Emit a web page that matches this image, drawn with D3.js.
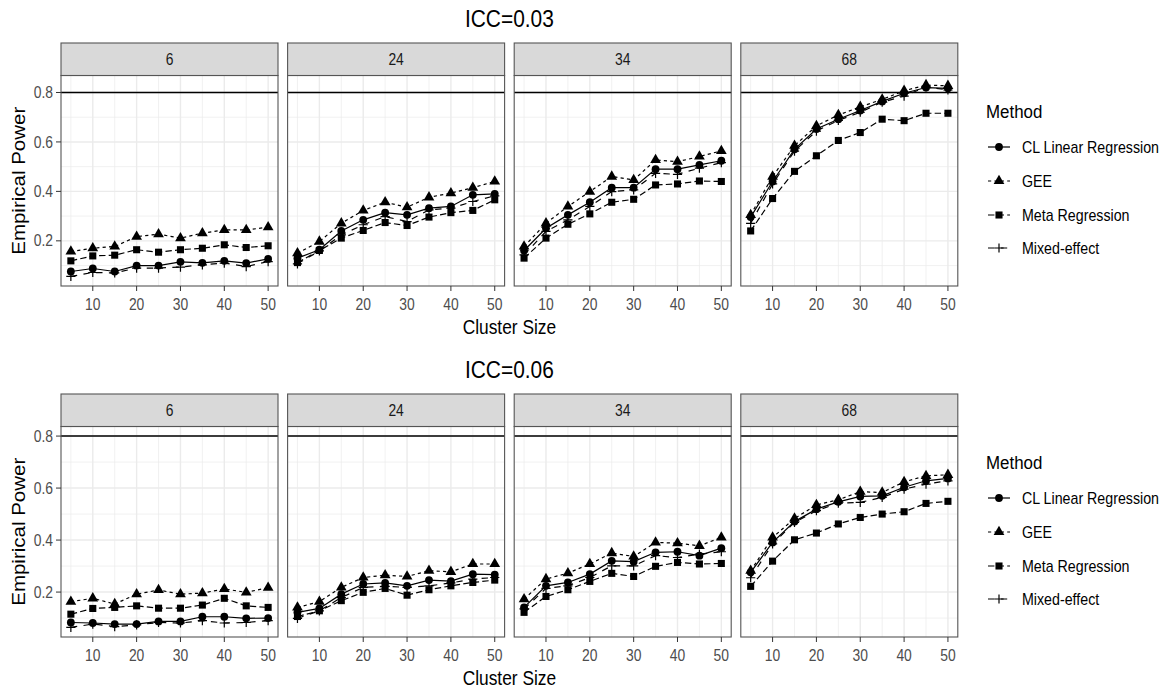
<!DOCTYPE html>
<html>
<head>
<meta charset="utf-8">
<script src="https://cdn.jsdelivr.net/npm/d3@7"></script>
<style>
  body { margin: 0; background: #fff; }
  svg { display: block; }
</style>
</head>
<body>
<svg id="chart"></svg>
<script>
/***********************************************************************/
// Data

var clusterSizes = [5, 10, 15, 20, 25, 30, 35, 40, 45, 50];
var numClusters = ['6', '24', '34', '68'];
var methods = ['CL Linear Regression', 'GEE', 'Meta Regression', 'Mixed-effect'];
var iccTitles = ['ICC=0.03', 'ICC=0.06'];
var targetPower = 0.8;
var xTicks = [10, 20, 30, 40, 50];
var xMinor = [5, 15, 25, 35, 45];
var yTicks = [0.2, 0.4, 0.6, 0.8];
var yMinor = [0.1, 0.3, 0.5, 0.7];

// rows: CL Linear Regression, GEE, Meta Regression, Mixed-effect
var icc03_k6 = [
  [0.076, 0.088, 0.076, 0.100, 0.100, 0.115, 0.111, 0.119, 0.110, 0.127],
  [0.157, 0.170, 0.177, 0.217, 0.227, 0.211, 0.231, 0.244, 0.244, 0.255],
  [0.119, 0.139, 0.142, 0.164, 0.154, 0.164, 0.170, 0.184, 0.173, 0.180],
  [0.056, 0.072, 0.070, 0.090, 0.090, 0.094, 0.103, 0.110, 0.096, 0.116]
];
var icc03_k24 = [
  [0.130, 0.164, 0.240, 0.285, 0.314, 0.305, 0.332, 0.339, 0.386, 0.390],
  [0.150, 0.197, 0.271, 0.323, 0.356, 0.336, 0.376, 0.393, 0.415, 0.440],
  [0.112, 0.161, 0.211, 0.242, 0.274, 0.262, 0.296, 0.314, 0.323, 0.366],
  [0.107, 0.159, 0.224, 0.265, 0.298, 0.278, 0.325, 0.332, 0.359, 0.382]
];
var icc03_k34 = [
  [0.161, 0.251, 0.305, 0.356, 0.415, 0.415, 0.490, 0.490, 0.507, 0.524],
  [0.177, 0.271, 0.339, 0.399, 0.460, 0.446, 0.527, 0.520, 0.541, 0.564],
  [0.130, 0.211, 0.267, 0.309, 0.356, 0.368, 0.426, 0.430, 0.442, 0.440],
  [0.143, 0.238, 0.285, 0.339, 0.399, 0.406, 0.473, 0.469, 0.494, 0.516]
];
var icc03_k68 = [
  [0.296, 0.440, 0.570, 0.652, 0.692, 0.727, 0.764, 0.797, 0.820, 0.817],
  [0.305, 0.460, 0.585, 0.665, 0.709, 0.742, 0.772, 0.807, 0.830, 0.827],
  [0.240, 0.371, 0.481, 0.544, 0.606, 0.638, 0.692, 0.686, 0.716, 0.716],
  [0.271, 0.430, 0.563, 0.644, 0.687, 0.720, 0.761, 0.785, 0.823, 0.810]
];
var icc06_k6 = [
  [0.083, 0.081, 0.077, 0.077, 0.087, 0.087, 0.105, 0.105, 0.099, 0.100],
  [0.163, 0.176, 0.154, 0.192, 0.208, 0.192, 0.196, 0.212, 0.199, 0.217],
  [0.115, 0.137, 0.141, 0.147, 0.138, 0.138, 0.150, 0.176, 0.147, 0.141],
  [0.064, 0.077, 0.067, 0.074, 0.083, 0.081, 0.090, 0.081, 0.083, 0.090]
];
var icc06_k24 = [
  [0.122, 0.137, 0.192, 0.231, 0.235, 0.224, 0.246, 0.242, 0.269, 0.267],
  [0.141, 0.163, 0.218, 0.256, 0.265, 0.260, 0.282, 0.278, 0.308, 0.308],
  [0.106, 0.128, 0.167, 0.199, 0.214, 0.188, 0.209, 0.224, 0.237, 0.246],
  [0.099, 0.128, 0.179, 0.218, 0.222, 0.218, 0.224, 0.235, 0.250, 0.256]
];
var icc06_k34 = [
  [0.141, 0.224, 0.237, 0.269, 0.320, 0.317, 0.353, 0.355, 0.340, 0.369],
  [0.173, 0.250, 0.273, 0.308, 0.350, 0.337, 0.391, 0.388, 0.378, 0.410],
  [0.122, 0.183, 0.209, 0.241, 0.272, 0.260, 0.299, 0.314, 0.308, 0.310],
  [0.135, 0.214, 0.224, 0.256, 0.301, 0.301, 0.340, 0.333, 0.346, 0.355]
];
var icc06_k68 = [
  [0.276, 0.391, 0.471, 0.519, 0.547, 0.568, 0.570, 0.603, 0.628, 0.637],
  [0.282, 0.410, 0.483, 0.535, 0.555, 0.586, 0.583, 0.624, 0.647, 0.651],
  [0.222, 0.319, 0.401, 0.427, 0.462, 0.487, 0.500, 0.509, 0.541, 0.549],
  [0.255, 0.385, 0.468, 0.513, 0.542, 0.545, 0.564, 0.596, 0.615, 0.628]
];

var powerData = [
  [icc03_k6, icc03_k24, icc03_k34, icc03_k68],
  [icc06_k6, icc06_k24, icc06_k34, icc06_k68]
];

/***********************************************************************/
// Layout

var W = 1173, H = 692;
var rowOffset = [0, 351];
var panelLeft = 61, panelW = 217, panelGap = 9.6;
var stripTop = 43, stripBottom = 75.5, panelBottom = 286;
var squeeze = 0.89;   // the source picture is a bit narrow horizontally
var font = '"Liberation Sans", Arial, Helvetica, sans-serif';

var dashes = [null, '3.2,3.2', '6.4,3.2', '6.4,6.4'];
var symbols = [d3.symbolCircle, d3.symbolTriangle, d3.symbolSquare, null];
var symbolSizes = [48, 50, 50, 0];

var svg = d3.select('#chart').attr('width', W).attr('height', H)
  .style('font-family', font);

function addText(parent, x, y, str, size, opts) {
  opts = opts || {};
  var t = 'translate(' + x + ',' + y + ') scale(' + squeeze + ',1)' + (opts.rotate ? ' rotate(-90)' : '');
  return parent.append('text')
    .attr('transform', t)
    .attr('text-anchor', opts.anchor || 'middle')
    .attr('fill', opts.color || '#000')
    .style('font-size', size + 'px')
    .text(str);
}

function drawMarker(g, m, x, y) {
  if (symbols[m]) {
    g.append('path')
      .attr('d', d3.symbol().type(symbols[m]).size(symbolSizes[m])())
      .attr('transform', 'translate(' + x + ',' + y + ')')
      .attr('fill', '#000');
  } else {
    g.append('path')
      .attr('d', 'M-4.6,0H4.6M0,-4.6V4.6')
      .attr('transform', 'translate(' + x + ',' + y + ')')
      .attr('stroke', '#000').attr('stroke-width', 1.2).attr('fill', 'none');
  }
}

var xScale = d3.scaleLinear().domain([2.75, 52.25]).range([0, panelW]);

/***********************************************************************/
// Draw each ICC block

iccTitles.forEach(function(title, r) {
  var off = rowOffset[r];
  var block = svg.append('g').attr('transform', 'translate(0,' + off + ')');

  // y domain like ggplot: data range incl. the 0.8 line, 5% expansion
  var all = [targetPower];
  powerData[r].forEach(function(panel) { panel.forEach(function(s) { all = all.concat(s); }); });
  var ext = d3.extent(all);
  var pad = (ext[1] - ext[0]) * 0.05;
  var yScale = d3.scaleLinear().domain([ext[0] - pad, ext[1] + pad]).range([panelBottom, stripBottom]);

  // title
  var plotCenter = panelLeft + (4 * panelW + 3 * panelGap) / 2;
  addText(block, plotCenter, 27, title, 23.5);

  numClusters.forEach(function(k, p) {
    var px = panelLeft + p * (panelW + panelGap);
    var g = block.append('g').attr('transform', 'translate(' + px + ',0)');

    // background grid
    g.append('rect').attr('x', 0).attr('y', stripBottom).attr('width', panelW)
      .attr('height', panelBottom - stripBottom).attr('fill', '#fff');
    g.selectAll('.xminor').data(xMinor).enter().append('line')
      .attr('x1', function(d) { return xScale(d); }).attr('x2', function(d) { return xScale(d); })
      .attr('y1', stripBottom).attr('y2', panelBottom)
      .attr('stroke', '#EBEBEB').attr('stroke-width', 0.7);
    g.selectAll('.yminor').data(yMinor.filter(function(d) { return d > yScale.domain()[0]; })).enter().append('line')
      .attr('y1', function(d) { return yScale(d); }).attr('y2', function(d) { return yScale(d); })
      .attr('x1', 0).attr('x2', panelW)
      .attr('stroke', '#EBEBEB').attr('stroke-width', 0.7);
    g.selectAll('.xmajor').data(xTicks).enter().append('line')
      .attr('x1', function(d) { return xScale(d); }).attr('x2', function(d) { return xScale(d); })
      .attr('y1', stripBottom).attr('y2', panelBottom)
      .attr('stroke', '#EBEBEB').attr('stroke-width', 1.4);
    g.selectAll('.ymajor').data(yTicks).enter().append('line')
      .attr('y1', function(d) { return yScale(d); }).attr('y2', function(d) { return yScale(d); })
      .attr('x1', 0).attr('x2', panelW)
      .attr('stroke', '#EBEBEB').attr('stroke-width', 1.4);

    // target power line
    g.append('line').attr('x1', 0).attr('x2', panelW)
      .attr('y1', yScale(targetPower)).attr('y2', yScale(targetPower))
      .attr('stroke', '#000').attr('stroke-width', 1.5);

    // series lines
    var line = d3.line()
      .x(function(d, i) { return xScale(clusterSizes[i]); })
      .y(function(d) { return yScale(d); });
    powerData[r][p].forEach(function(series, m) {
      g.append('path').attr('d', line(series))
        .attr('fill', 'none').attr('stroke', '#000').attr('stroke-width', 1.2)
        .attr('stroke-dasharray', dashes[m]);
    });
    // points
    powerData[r][p].forEach(function(series, m) {
      series.forEach(function(v, i) { drawMarker(g, m, xScale(clusterSizes[i]), yScale(v)); });
    });

    // panel border
    g.append('rect').attr('x', 0).attr('y', stripBottom).attr('width', panelW)
      .attr('height', panelBottom - stripBottom)
      .attr('fill', 'none').attr('stroke', '#555').attr('stroke-width', 1.1);

    // strip
    g.append('rect').attr('x', 0).attr('y', stripTop).attr('width', panelW)
      .attr('height', stripBottom - stripTop)
      .attr('fill', '#D9D9D9').attr('stroke', '#555').attr('stroke-width', 1.1);
    addText(g, panelW / 2, (stripTop + stripBottom) / 2 + 5.6, k, 15.6, { color: '#1A1A1A' });

    // x axis
    var xa = g.append('g').attr('transform', 'translate(0,' + panelBottom + ')');
    xa.selectAll('line').data(xTicks).enter().append('line')
      .attr('x1', function(d) { return xScale(d); }).attr('x2', function(d) { return xScale(d); })
      .attr('y1', 0).attr('y2', 5).attr('stroke', '#333').attr('stroke-width', 1);
    xTicks.forEach(function(d) { addText(xa, xScale(d), 24, d, 15.6, { color: '#4D4D4D' }); });

    // y axis on first panel
    if (p === 0) {
      var ya = g.append('g');
      ya.selectAll('line').data(yTicks).enter().append('line')
        .attr('y1', function(d) { return yScale(d); }).attr('y2', function(d) { return yScale(d); })
        .attr('x1', -5).attr('x2', 0).attr('stroke', '#333').attr('stroke-width', 1);
      yTicks.forEach(function(d) {
        addText(ya, -8, yScale(d) + 5.6, d3.format('.1f')(d), 15.6, { color: '#4D4D4D', anchor: 'end' });
      });
    }
  });

  // axis titles
  addText(block, plotCenter, 333.5, 'Cluster Size', 19.5);
  addText(block, 25, (stripBottom + panelBottom) / 2, 'Empirical Power', 20.5, { rotate: true });

  // legend
  var lg = block.append('g');
  addText(lg, 986, 117.5, 'Method', 19, { anchor: 'start' });
  var keyY = [147, 181, 215, 248];
  methods.forEach(function(name, m) {
    var y = keyY[m];
    lg.append('line').attr('x1', 988).attr('x2', 1010).attr('y1', y).attr('y2', y)
      .attr('stroke', '#000').attr('stroke-width', 1.2).attr('stroke-dasharray', dashes[m]);
    drawMarker(lg, m, 999, y);
    addText(lg, 1022, y + 5.7, name, 16, { anchor: 'start' });
  });
});
</script>
</body>
</html>
